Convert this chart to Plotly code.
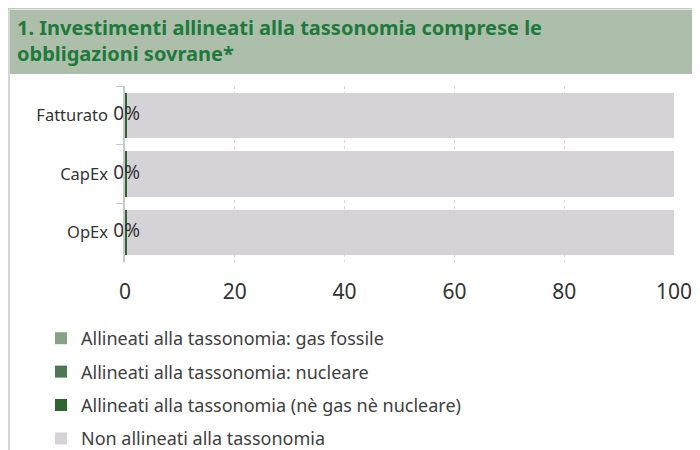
import plotly.graph_objects as go

categories = ["Fatturato", "CapEx", "OpEx"]
gas_fossile = [0, 0, 0]
nucleare = [0, 0, 0]
allineati = [0.3, 0.3, 0.3]
non_allineati = [99.7, 99.7, 99.7]
labels = ["0%", "0%", "0%"]
series_names = [
    "Allineati alla tassonomia: gas fossile",
    "Allineati alla tassonomia: nucleare",
    "Allineati alla tassonomia (nè gas nè nucleare)",
    "Non allineati alla tassonomia",
]
tick_vals = [0, 20, 40, 60, 80, 100]
title_text = "1. Investimenti allineati alla tassonomia comprese le<br>obbligazioni sovrane*"

W, H = 700, 450
L, R, T, B = 117, 34, 78, 196
PW, PH = W - L - R, H - T - B

def px(xp):
    return (xp - L) / PW

def py(yp):
    return (H - B - yp) / PH

FONT = "Noto Sans"
colors = ["#86a386", "#4e7752", "#2e6332", "#d5d3d7"]

fig = go.Figure()
for name, vals, c in zip(series_names, [gas_fossile, nucleare, allineati, non_allineati], colors):
    fig.add_trace(go.Bar(
        y=categories, x=vals, name=name, orientation="h",
        marker=dict(color=c, line=dict(width=0)),
        legendgroup=name,
    ))

fig.add_trace(go.Scatter(
    y=categories, x=[0.3, 0.3, 0.3], mode="text", text=labels,
    textposition="middle center", cliponaxis=False,
    textfont=dict(family=FONT, size=19, color="#333333"),
    showlegend=False, hoverinfo="skip",
))

shapes = [
    dict(type="rect", xref="paper", yref="paper", x0=px(2), x1=px(720), y0=py(66), y1=py(2),
         fillcolor="#adbfab", line=dict(width=0), layer="below"),
    dict(type="line", xref="paper", yref="paper", x0=px(0), x1=px(720), y0=py(0.7), y1=py(0.7),
         line=dict(color="#c8c8c8", width=1.5)),
    dict(type="line", xref="paper", yref="paper", x0=px(1), x1=px(1), y0=py(0), y1=py(460),
         line=dict(color="#c8c8c8", width=1.5)),
]

annotations = [
    dict(text=title_text, xref="paper", yref="paper", x=px(7), y=py(4),
         xanchor="left", yanchor="top", align="left", showarrow=False,
         font=dict(family=FONT, size=20, color="#1e7a3c", weight="bold")),
]

fig.update_layout(
    width=W, height=H,
    margin=dict(l=L, r=R, t=T, b=B, autoexpand=False),
    paper_bgcolor="white", plot_bgcolor="white",
    barmode="stack", bargap=0.23,
    font=dict(family=FONT, color="#333333"),
    shapes=shapes, annotations=annotations,
    showlegend=True,
    legend=dict(orientation="v", x=px(33), xanchor="left", y=py(312), yanchor="top",
                font=dict(family=FONT, size=18, color="#404040"),
                tracegroupgap=7, traceorder="grouped", bgcolor="rgba(0,0,0,0)"),
    xaxis=dict(range=[0, 100], tickvals=tick_vals, showgrid=True, gridcolor="#d9d9d9",
               griddash="dot", zeroline=False, showline=False,
               ticks="outside", ticklen=11, tickcolor="rgba(0,0,0,0)",
               tickfont=dict(family=FONT, size=21, color="#333333")),
    yaxis=dict(categoryorder="array", categoryarray=categories, autorange="reversed",
               showline=True, linecolor="#c8c8c8", linewidth=1.5,
               ticks="outside", tickson="boundaries", ticklen=7, tickcolor="#c8c8c8",
               showgrid=False, ticklabelstandoff=12,
               tickfont=dict(family=FONT, size=16.5, color="#333333")),
)

fig.write_html("out.html")
